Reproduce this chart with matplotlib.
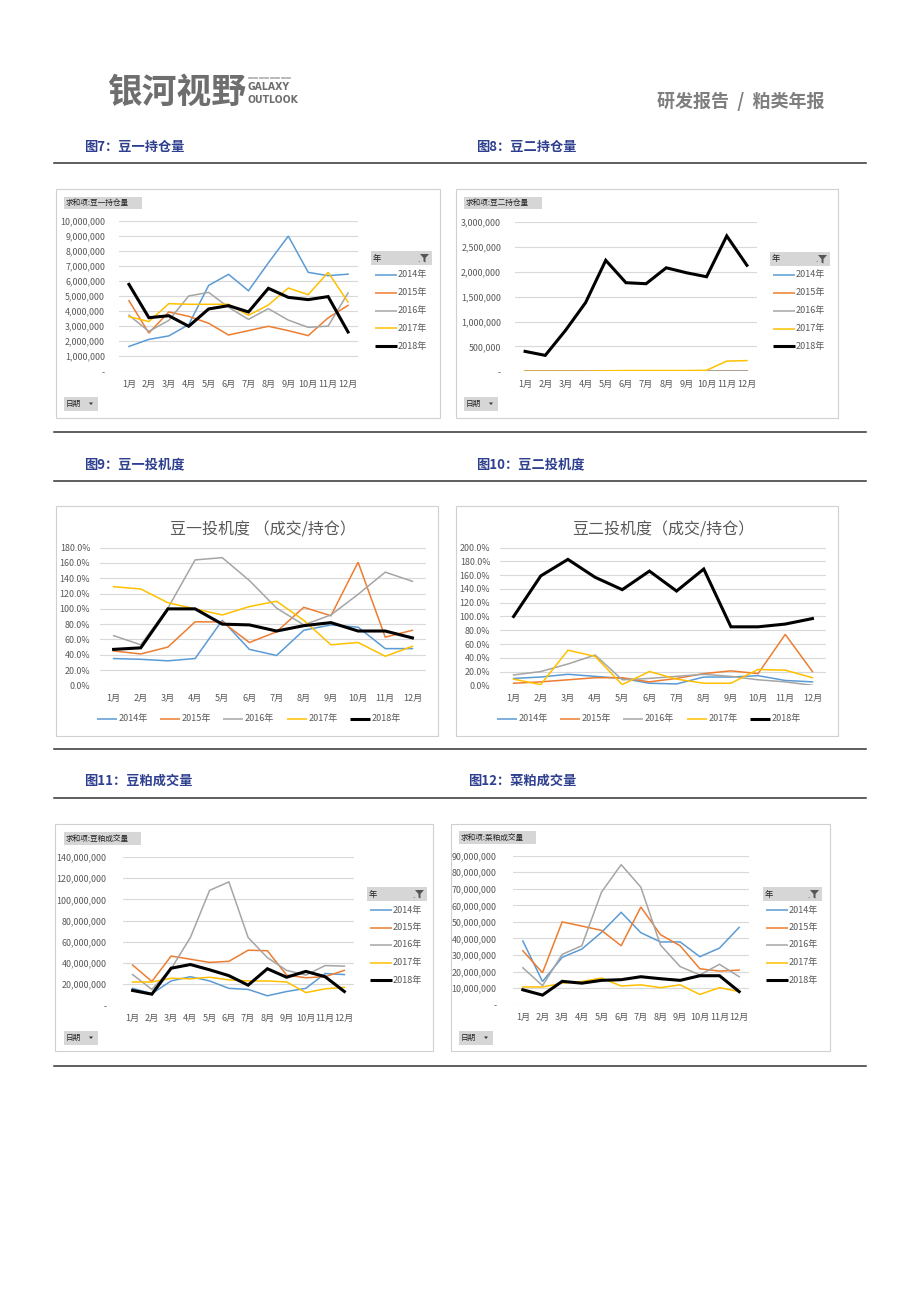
import matplotlib
matplotlib.use("Agg")
import matplotlib.pyplot as plt
from matplotlib.patches import Rectangle, Polygon
from matplotlib.ticker import FuncFormatter

plt.rcParams["font.family"] = ["Noto Sans CJK SC", "DejaVu Sans"]

W, H = 920, 1302

# ------------------------------------------------------------------#
# data
months = ["1月", "2月", "3月", "4月", "5月", "6月", "7月", "8月", "9月", "10月", "11月", "12月"]
years = ["2014年", "2015年", "2016年", "2017年", "2018年"]

# 图7 豆一持仓量 (million lots)
d1_2014 = [1.65, 2.12, 2.35, 3.1, 5.7, 6.44, 5.35, 7.2, 8.98, 6.57, 6.35, 6.45]
d1_2015 = [4.69, 2.54, 3.94, 3.65, 3.19, 2.41, 2.7, 2.99, 2.7, 2.37, 3.55, 4.38]
d1_2016 = [3.72, 2.65, 3.38, 5.0, 5.24, 4.25, 3.45, 4.16, 3.4, 2.92, 3.0, 5.2]
d1_2017 = [3.63, 3.3, 4.49, 4.45, 4.45, 4.45, 3.72, 4.4, 5.53, 5.09, 6.57, 4.6]
d1_2018 = [5.77, 3.56, 3.69, 2.99, 4.14, 4.36, 3.94, 5.51, 4.91, 4.76, 4.96, 2.61]

# 图8 豆二持仓量 (million lots)
d2_2014 = [0, 0, 0, 0, 0, 0, 0, 0, 0, 0, 0, 0]
d2_2015 = [0, 0, 0, 0, 0, 0, 0, 0, 0, 0, 0, 0]
d2_2016 = [0, 0, 0, 0, 0, 0, 0, 0, 0, 0, 0, 0]
d2_2017 = [0, 0, 0, 0, 0.01, 0.015, 0.015, 0.015, 0.015, 0.02, 0.205, 0.215]
d2_2018 = [0.40, 0.32, 0.82, 1.38, 2.23, 1.78, 1.76, 2.08, 1.98, 1.90, 2.72, 2.13]

# 图9 豆一投机度 (%)
s1_2014 = [35, 34, 32, 35, 85, 47, 39, 72, 79, 76, 48, 48]
s1_2015 = [45, 41, 50, 83, 83, 56, 70, 102, 91, 161, 63, 72]
s1_2016 = [65, 53, 101, 164, 167, 137, 101, 79, 92, 119, 148, 136]
s1_2017 = [129, 126, 108, 100, 92, 103, 110, 85, 53, 56, 38, 51]
s1_2018 = [47, 49, 100, 100, 80, 79, 71, 78, 82, 71, 71, 62]

# 图10 豆二投机度 (%)
s2_2014 = [10, 12, 16, 13, 10, 3, 2, 12, 12, 14, 7, 5]
s2_2015 = [3, 5, 8, 11, 11, 5, 10, 17, 21, 17, 74, 20]
s2_2016 = [15, 20, 31, 44, 8, 10, 13, 16, 13, 8, 5, 0]
s2_2017 = [9, 1, 51, 42, 1, 20, 9, 3, 3, 23, 22, 11]
s2_2018 = [100, 159, 183, 157, 139, 166, 137, 169, 85, 85, 89, 97]

# 图11 豆粕成交量 (million lots)
m_2014 = [16, 11, 23, 27, 23, 16, 15, 9, 13, 16, 30, 29]
m_2015 = [38, 22.5, 46.5, 43.5, 40.5, 41.5, 52, 51.5, 28.5, 26, 27, 33]
m_2016 = [29, 15, 34.5, 64, 108.5, 116.5, 64, 45, 33, 28.5, 37.5, 37]
m_2017 = [22, 22, 25.5, 25, 26.5, 24, 23, 23, 22, 12, 15.5, 17]
m_2018 = [14, 10.5, 35, 38.5, 33.5, 28, 19, 34.5, 26.5, 32, 27, 13]

# 图12 菜粕成交量 (million lots)
r_2014 = [38.5, 14, 28.6, 33.6, 43.7, 55.8, 43.5, 37.9, 37.9, 29, 34.2, 46.7]
r_2015 = [32.6, 19.3, 50, 47.5, 44.9, 35.6, 59, 42.3, 35.6, 21.7, 20.3, 20.9]
r_2016 = [22.3, 11.5, 30.4, 35.6, 68, 84.6, 71, 36, 23, 18, 24.4, 16.9]
r_2017 = [10.7, 10.7, 13, 14, 16.1, 11.3, 12, 10.3, 12, 6.2, 10.3, 7.9]
r_2018 = [9, 5.8, 14.1, 13, 14.7, 15.1, 16.9, 15.7, 14.7, 17.5, 17.5, 7.9]

# ------------------------------------------------------------------#
COLORS = ["#5B9BD5", "#ED7D31", "#A5A5A5", "#FFC000", "#000000"]
WIDTHS = [1.1, 1.1, 1.1, 1.1, 2.2]
GRID = "#D9D9D9"
TXT = "#595959"
HEAD = "#2E3F8F"

fig = plt.figure(figsize=(W / 100, H / 100), dpi=100)
page = fig.add_axes([0, 0, 1, 1], zorder=0)
page.set_xlim(0, W)
page.set_ylim(H, 0)
page.axis("off")


def px_axes(x0, y0, x1, y1):
    ax = fig.add_axes([x0 / W, 1 - y1 / H, (x1 - x0) / W, (y1 - y0) / H], zorder=2)
    ax.set_facecolor("none")
    return ax


def style_axes(ax, ymax, step, fmt, scale=1.0, ypad=6):
    ax.set_xlim(-0.5, 11.5)
    ax.set_ylim(0, ymax * scale)
    ax.set_yticks([i * step * scale for i in range(int(round(ymax / step)) + 1)])
    ax.yaxis.set_major_formatter(FuncFormatter(fmt))
    ax.set_xticks(range(12))
    ax.set_xticklabels(months)
    ax.grid(axis="y", color=GRID, lw=0.8)
    ax.set_axisbelow(True)
    for s in ax.spines.values():
        s.set_visible(False)
    ax.tick_params(length=0, labelsize=6.4, colors=TXT)
    ax.tick_params(axis="y", pad=ypad)
    ax.tick_params(axis="x", pad=6, labelsize=6.6)


def pivot_fmt(v, pos):
    return "-" if v == 0 else f"{v:,.0f}"


def pct_fmt(v, pos):
    return f"{v:.1f}%"


def box(x0, y0, x1, y1):
    page.add_patch(Rectangle((x0, y0), x1 - x0, y1 - y0, fill=False, ec="#D0D0D0", lw=0.8))


def button(x0, y0, x1, y1, label, arrow=False):
    page.add_patch(Rectangle((x0, y0), x1 - x0, y1 - y0, fc="#D6D6D6", ec="none"))
    page.text(x0 + 2, (y0 + y1) / 2, label, fontsize=5.5, color="#222222", va="center", ha="left")
    if arrow:
        page.add_patch(Polygon([[x1 - 9, y0 + 5.5], [x1 - 5, y0 + 5.5], [x1 - 7, y0 + 8]],
                               closed=True, fc="#333333", ec="none"))


def side_legend(x0, y0, x1, line_x, ys):
    page.add_patch(Rectangle((x0, y0), x1 - x0, 14, fc="#D6D6D6", ec="none"))
    page.text(x0 + 2, y0 + 7, "年", fontsize=6, color="#222222", va="center")
    page.add_patch(Polygon([[x1 - 12, y0 + 3], [x1 - 3, y0 + 3], [x1 - 6.5, y0 + 7],
                            [x1 - 6.5, y0 + 11.5], [x1 - 8.5, y0 + 10.5], [x1 - 8.5, y0 + 7]],
                           closed=True, fc="#555555", ec="none"))
    page.text(x1 - 15, y0 + 8, ".", fontsize=6, color="#333333", va="center")
    for y, c, lw, lab in zip(ys, COLORS, WIDTHS, years):
        page.plot([line_x, line_x + 22], [y, y], color=c, lw=lw, solid_capstyle="butt")
        page.text(line_x + 23, y, lab, fontsize=6.5, color=TXT, va="center", ha="left")


def bottom_legend(x_start, y):
    offs = [0, 63, 126, 190, 253]
    for o, c, lw, lab in zip(offs, COLORS, WIDTHS, years):
        page.plot([x_start + o, x_start + o + 20], [y, y], color=c, lw=lw, solid_capstyle="butt")
        page.text(x_start + o + 22, y, lab, fontsize=6.5, color=TXT, va="center", ha="left")


def draw_lines(ax, series, scale=1.0):
    for vals, c, lw in zip(series, COLORS, WIDTHS):
        ax.plot(range(12), [v * scale for v in vals], color=c, lw=lw, solid_joinstyle="miter")


# ------------------------------------------------------------------#
# page header
page.text(108, 92, "银河视野", fontsize=25, fontweight="bold", color="#6E6E6E", va="center", ha="left")
page.text(248, 87, "GALAXY", fontsize=7.5, fontweight="bold", color="#6E6E6E", va="center",
          ha="left", family=["DejaVu Sans"], stretch="condensed")
page.text(248, 100, "OUTLOOK", fontsize=7.5, fontweight="bold", color="#6E6E6E", va="center",
          ha="left", family=["DejaVu Sans"], stretch="condensed")
for i in range(8):
    page.plot([249 + i * 5.5, 252 + i * 5.5], [77.5, 77.5], color="#AAAAAA", lw=1.2)
page.text(825, 101, "研发报告  /  粕类年报", fontsize=13, fontweight="bold", color="#7F7F7F",
          va="center", ha="right")

# section headers and rules
for x, y, t in [(84, 147, "图7：豆一持仓量"), (476, 147, "图8：豆二持仓量"),
                (84, 464, "图9：豆一投机度"), (476, 464, "图10：豆二投机度"),
                (84, 781, "图11：豆粕成交量"), (468, 781, "图12：菜粕成交量")]:
    page.text(x, y, t, fontsize=9.5, fontweight="bold", color=HEAD, va="center", ha="left")
for y in [163, 432, 481, 749, 798, 1066]:
    page.plot([54, 866], [y, y], color="#333333", lw=1.1)

# ------------------------------------------------------------------#
# 图7
box(56, 189, 440, 418)
ax = px_axes(119, 220.7, 358, 371.3)
style_axes(ax, 10, 1, pivot_fmt, 1e6, ypad=10)
draw_lines(ax, [d1_2014, d1_2015, d1_2016, d1_2017, d1_2018], 1e6)
button(64, 197, 142, 209, "求和项:豆一持仓量")
button(64, 397, 98, 411, "日期", arrow=True)
side_legend(371, 251, 432, 375, [275, 292.5, 310.5, 328, 346])

# 图8
box(456, 189, 838, 418)
ax = px_axes(515, 222, 757, 371.3)
style_axes(ax, 3, 0.5, pivot_fmt, 1e6, ypad=10)
draw_lines(ax, [d2_2014, d2_2015, d2_2016, d2_2017, d2_2018], 1e6)
button(464, 197, 542, 209, "求和项:豆二持仓量")
button(464, 397, 498, 411, "日期", arrow=True)
side_legend(770, 252, 830, 773, [275, 293, 311, 329, 346])

# 图9
box(56, 506, 438, 736)
ax = px_axes(100, 547.7, 426, 685.3)
style_axes(ax, 180, 20, pct_fmt, ypad=7)
draw_lines(ax, [s1_2014, s1_2015, s1_2016, s1_2017, s1_2018])
ax.text(0.5, 1.13, "豆一投机度 （成交/持仓）", transform=ax.transAxes, fontsize=11.5,
        color=TXT, ha="center", va="center")
bottom_legend(97, 719)

# 图10
box(456, 506, 838, 736)
ax = px_axes(500, 547.7, 826, 685.3)
style_axes(ax, 200, 20, pct_fmt, ypad=7)
draw_lines(ax, [s2_2014, s2_2015, s2_2016, s2_2017, s2_2018])
ax.text(0.5, 1.13, "豆二投机度（成交/持仓）", transform=ax.transAxes, fontsize=11.5,
        color=TXT, ha="center", va="center")
bottom_legend(497, 719)

# 图11
box(55, 824, 433, 1051)
ax = px_axes(123, 857, 354, 1005.3)
style_axes(ax, 140, 20, pivot_fmt, 1e6, ypad=12)
draw_lines(ax, [m_2014, m_2015, m_2016, m_2017, m_2018], 1e6)
button(64, 832, 141, 845, "求和项:豆粕成交量")
button(64, 1031, 98, 1045, "日期", arrow=True)
side_legend(367, 887, 427, 370, [910, 927.5, 945, 963, 980])

# 图12
box(451, 824, 830, 1051)
ax = px_axes(513, 855.7, 749, 1004.7)
style_axes(ax, 90, 10, pivot_fmt, 1e6, ypad=12)
draw_lines(ax, [r_2014, r_2015, r_2016, r_2017, r_2018], 1e6)
button(459, 831, 536, 844, "求和项:菜粕成交量")
button(459, 1031, 493, 1045, "日期", arrow=True)
side_legend(763, 887, 822, 766, [910, 927.5, 945, 963, 980])

fig.savefig("out.png", dpi=100)
